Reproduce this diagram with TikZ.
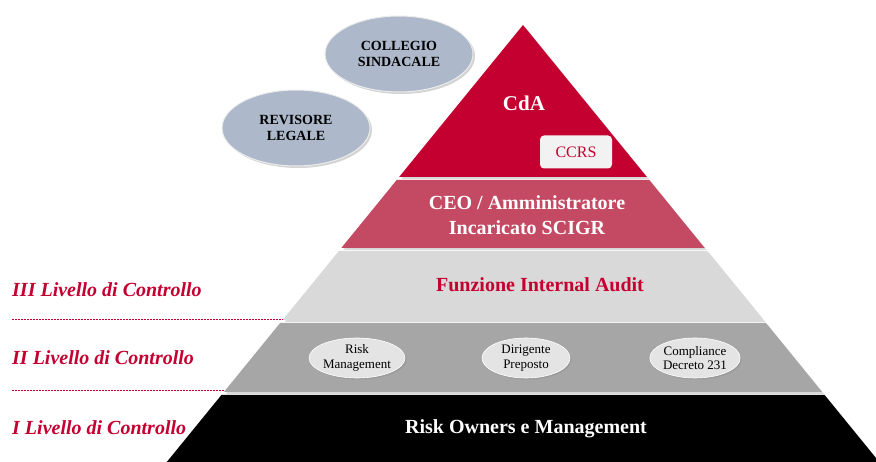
\documentclass[tikz,border=0pt]{standalone}
\usepackage{fontspec}
\setmainfont{Liberation Serif}
\usetikzlibrary{shadows,shapes.geometric}
\definecolor{crim}{RGB}{195,0,48}
\definecolor{ceoband}{RGB}{196,74,100}
\definecolor{audband}{RGB}{217,217,217}
\definecolor{iiband}{RGB}{166,166,166}
\definecolor{ellblue}{RGB}{173,185,202}
\definecolor{smallell}{RGB}{228,228,228}
\definecolor{ccrsbox}{RGB}{242,242,242}
\tikzset{
  bigell/.style={ellipse, fill=ellblue, draw=white!85!gray, line width=1pt,
     drop shadow={shadow xshift=2pt, shadow yshift=-2pt, opacity=0.35},
     minimum width=148pt, minimum height=76pt, align=center, inner sep=0pt,
     font=\fontsize{14}{16}\selectfont\bfseries},
  smell/.style={ellipse, fill=smallell, draw=white, line width=0.6pt,
     drop shadow={shadow xshift=1.5pt, shadow yshift=-1.5pt, opacity=0.3},
     minimum width=88pt, minimum height=40pt, align=center, inner sep=0pt,
     font=\fontsize{13}{14.5}\selectfont},
  lvl/.style={anchor=west, text=crim, inner sep=0pt,
     font=\fontsize{20}{22}\selectfont\bfseries\itshape},
  wtxt/.style={text=white, align=center, font=\fontsize{20}{25}\selectfont\bfseries},
  dashline/.style={crim, line width=1pt, dash pattern=on 2pt off 1pt},
  band/.style={drop shadow={shadow xshift=2pt, shadow yshift=-2pt, opacity=0.3}}
}
\begin{document}
\begin{tikzpicture}[x=1pt,y=-1pt]
\useasboundingbox (0,0) rectangle (876,462);
\clip (0,0) rectangle (876,462);
% pyramid bands
\fill[crim, band] (523,25) -- (646.9,177) -- (399.1,177) -- cycle;
\fill[ceoband, band] (396.7,180) -- (649.3,180) -- (704.7,248) -- (341.3,248) -- cycle;
\fill[audband, band] (338.8,251) -- (707.2,251) -- (763.4,320) -- (282.6,320) -- cycle;
\fill[iiband, band] (280.1,323) -- (765.9,323) -- (822.1,392) -- (223.9,392) -- cycle;
\fill[black, band] (221.4,395) -- (824.6,395) -- (879.2,462) -- (166.8,462) -- cycle;
% ellipses
\node[bigell] (coll) at (399,54) {COLLEGIO\\SINDACALE};
\node[bigell] (rev) at (296,128) {REVISORE\\LEGALE};
% texts
\node[text=white, font=\fontsize{21}{24}\selectfont\bfseries] (cda) at (524,103) {CdA};
\node[fill=ccrsbox, rounded corners=4pt, minimum width=72pt, minimum height=33pt, inner sep=0pt,
      text=crim, font=\fontsize{16}{18}\selectfont] (ccrs) at (576,152) {CCRS};
\node[wtxt] (ceo) at (527,215) {CEO / Amministratore\\Incaricato SCIGR};
\node[text=crim, font=\fontsize{20}{22}\selectfont\bfseries] (ia) at (540,285) {Funzione Internal Audit};
\node[smell] (rm) at (357,358) {Risk\\Management};
\node[smell] (dp) at (526,358) {Dirigente\\Preposto};
\node[smell] (cd) at (695,358) {Compliance\\Decreto 231};
\node[wtxt] (ro) at (526,429) {Risk Owners e Management};
% level labels
\node[lvl] (l3) at (12,290) {III Livello di Controllo};
\node[lvl] (l2) at (12,358) {II Livello di Controllo};
\node[lvl] (l1) at (12,428) {I Livello di Controllo};
\coordinate (d1a) at (12,320); \coordinate (d1b) at (283,320);
\coordinate (d2a) at (12,391); \coordinate (d2b) at (224,391);
\draw[dashline] (d1a) -- (d1b);
\draw[dashline] (d2a) -- (d2b);
\end{tikzpicture}
\end{document}
